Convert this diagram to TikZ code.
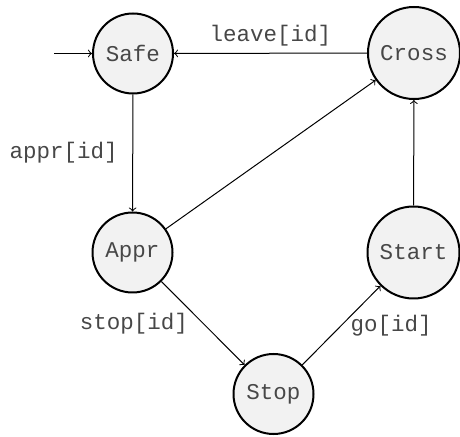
\documentclass[tikz,border=0pt]{standalone}
\usepackage{fontspec}
\setmonofont{Liberation Mono}
\usetikzlibrary{arrows}

\tikzset{
  state/.style={circle, draw=black, line width=1pt, fill=gray!10,
    text=black!72, minimum size=40pt, inner sep=1pt,
    font=\fontsize{11.25}{13}\selectfont\ttfamily},
  wide/.style={minimum size=46pt},
  trans/.style={->, line width=0.5pt},
  act/.style={text=black!72, font=\fontsize{11.25}{13}\selectfont\ttfamily}
}

\begin{document}
\begin{tikzpicture}[x=0.5pt, y=-0.5pt]
  \useasboundingbox (0,0) rectangle (460,437);

  % locations
  \node[state] (safe) at (133, 53.5) {Safe};
  \node[state, wide] (cross) at (414, 53) {Cross};
  \node[state] (appr) at (132.5, 252.5) {Appr};
  \node[state, wide] (start) at (413.5, 252.5) {Start};
  \node[state] (stop) at (273.5, 394) {Stop};

  \coordinate (init) at (54, 53.5);

  % transitions
  \draw[trans] (init) -- (safe);
  \draw[trans] (cross) -- node[act, above=0pt] {leave[id]} (safe);
  \draw[trans] (safe) -- node[act, left=4pt] {appr[id]} (appr);
  \draw[trans] (appr) -- (cross);
  \draw[trans] (appr) -- node[act, left=4pt] {stop[id]} (stop);
  \draw[trans] (stop) -- node[act, right=1pt] {go[id]} (start);
  \draw[trans] (start) -- (cross);
\end{tikzpicture}
\end{document}
